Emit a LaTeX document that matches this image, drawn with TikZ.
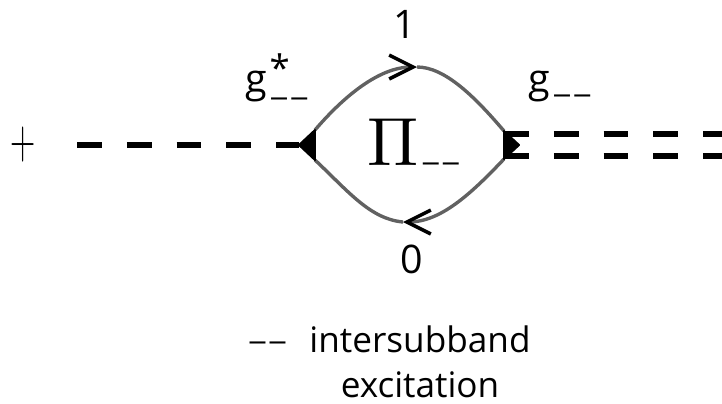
\documentclass[tikz,border=0pt]{standalone}
\usepackage{fontspec}
\setmainfont{Open Sans}
\usetikzlibrary{arrows.meta}
\newcommand{\subdash}[1]{\kern2pt\raisebox{#1}{\fontsize{20}{20}\selectfont\scalebox{1.35}[1]{–\kern0.6pt–}}}
\tikzset{
  bosonline/.style={line width=3.8pt, black, dash pattern=on 17.7pt off 17.7pt},
  loopline/.style={line width=2.4pt, black!62},
  looparrow/.style={loopline, -{Straight Barb[black, line width=2.5pt, length=17pt, width=17pt]}},
  vertexfill/.style={fill=black, draw=black, line width=1.4pt, line join=round},
  biglabel/.style={font=\fontsize{28}{32}\selectfont, inner sep=0pt},
  textlabel/.style={font=\fontsize{25}{32}\selectfont, inner sep=0pt, align=center}
}
\begin{document}
\begin{tikzpicture}[x=0.025cm, y=-0.025cm]
  \useasboundingbox (0,0) rectangle (722,403);
  % vertices
  \coordinate (vl) at (299,145);
  \coordinate (vlup) at (315,130);
  \coordinate (vldown) at (315,160);
  \coordinate (vr) at (519,145);
  \coordinate (vrup) at (504,131);
  \coordinate (vrdown) at (504,159);
  \coordinate (top) at (417,67);
  \coordinate (bottom) at (403,222);
  \coordinate (lstart) at (77,145);
  \coordinate (rup) at (722,134);
  \coordinate (rupstart) at (504,134);
  \coordinate (rdown) at (722,156);
  \coordinate (rdownstart) at (504,156);
  % boson lines
  \draw[bosonline] (lstart) -- (vl);
  \draw[bosonline] (rupstart) -- (rup);
  \draw[bosonline] (rdownstart) -- (rdown);
  % loop
  \draw[looparrow] (vlup) .. controls (345,95) and (380,67) .. (top);
  \draw[loopline] (top) .. controls (445,67) and (475,97) .. (vrup);
  \draw[looparrow] (vrdown) .. controls (470,195) and (440,222) .. (bottom);
  \draw[loopline] (bottom) .. controls (370,219) and (348,191) .. (vldown);
  \fill[vertexfill] (vl) -- (vlup) -- (vldown) -- cycle;
  \fill[vertexfill] (vr) -- (vrup) -- (vrdown) -- cycle;
  % labels
  \node[biglabel] (plus) at (23,145) {\fontsize{25}{30}\selectfont\scalebox{1}[1.6]{$+$}};
  \node[biglabel] (one) at (405,24) {1};
  \node[biglabel] (zero) at (412,259) {0};
  \node[biglabel, anchor=base west] (gstar) at (245,92) {g\rlap{\kern2pt\raisebox{0.5ex}{\fontsize{26}{26}\selectfont *}}\subdash{-10pt}};
  \node[biglabel, anchor=base west] (gplain) at (528,92) {g\subdash{-8pt}};
  \node[inner sep=0pt, anchor=base west] (piname) at (367,165) {\scalebox{4.85}{$\Pi$}\subdash{-4.3pt}};
  \node[biglabel, anchor=base west] (dashes) at (245,350) {\subdash{0pt}};
  \node[textlabel, anchor=center] (excite) at (420,362) {intersubband\\excitation};
\end{tikzpicture}
\end{document}
